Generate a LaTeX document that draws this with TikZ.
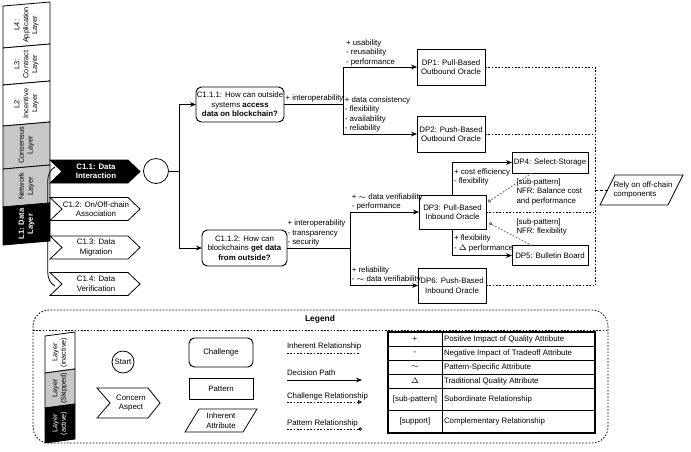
\documentclass[tikz,border=0pt]{standalone}
\usepackage{fontspec}
\setmainfont{Liberation Sans}
\usetikzlibrary{arrows.meta,decorations.pathreplacing,calc}
\newdimen\pxu \pxu=0.75pt
% x1 x2 ytop ybottom fill nodeopts name text
\newcommand\laySeg[8]{%
  \filldraw[fill=#5, line width=0.6pt] (#1,#3+4) -- (#2,#3) -- (#2,#4) -- (#1,#4+4) -- cycle;
  \node[rotate=90, align=center, #6] (#7) at ({(#1+#2)/2},{(#3+#4)/2+2}) {#8};}
% y fill name nodeopts text
\newcommand\chevShape[5]{%
  \filldraw[fill=#2, line width=0.6pt] (50,#1-11.5) -- (128,#1-11.5) -- (140,#1) -- (128,#1+11.5) -- (50,#1+11.5) -- (62,#1) -- cycle;
  \node[align=center, #4] (#3) at (96,#1) {#5};}
\begin{document}
\begin{tikzpicture}[x=0.75pt,y=-0.75pt,
  every node/.style={font=\fontsize{5.9}{7.1}\selectfont, inner sep=0pt, outer sep=0pt},
  box/.style={draw, line width=0.7pt, align=center},
  chal/.style={box, rounded corners=4pt},
  arr/.style={line width=0.6pt, -{Stealth[length=4.5pt,width=3.6pt]}},
  dline/.style={line width=0.6pt},
  inh/.style={line width=0.6pt, dash pattern=on 1.3pt off 1.2pt},
  patrel/.style={line width=0.6pt, black!60, dash pattern=on 1.3pt off 1.2pt, -{Circle[open,length=2.6pt,width=2.6pt]}},
  chrel/.style={line width=0.6pt, dash pattern=on 1.3pt off 1.2pt, -{Triangle[open,length=3pt,width=3pt]}},
  lbl/.style={align=left, anchor=south west},
  lblt/.style={align=left, anchor=north west},
  small/.style={font=\fontsize{5.4}{6.4}\selectfont},
  barf/.style={font=\fontsize{5.5}{6.6}\selectfont},
]
\useasboundingbox (0,0) rectangle (691,451);

% ---------- layer bar ----------
\laySeg{3}{50}{2}{44}{white}{barf}{l4}{L4:\\Application\\Layer}
\laySeg{3}{50}{44}{81}{white}{barf}{l3}{L3:\\Contract\\Layer}
\laySeg{3}{50}{81}{122}{white}{barf}{l2}{L2:\\Incentive\\Layer}
\laySeg{3}{50}{122}{165}{black!22}{barf}{lc}{Consensus\\Layer}
\laySeg{3}{50}{165}{203}{black!22}{barf}{ln}{Network\\Layer}
\laySeg{3}{50}{203}{241}{black}{text=white,font=\fontsize{5.7}{6.8}\selectfont\bfseries}{l1}{L1: Data\\Layer}

% ---------- concerns ----------
\chevShape{171.5}{black}{c11}{text=white,font=\fontsize{5.9}{7.1}\selectfont\bfseries}{C1.1: Data\\Interaction}
\chevShape{209}{white}{c12}{}{C1.2: On/Off-chain\\Association}
\chevShape{247.5}{white}{c13}{}{C1.3: Data\\Migration}
\chevShape{284}{white}{c14}{}{C1.4: Data\\Verification}
\draw[line width=0.6pt, decorate, decoration={brace, amplitude=11pt}] (55,286) -- (55,167);

% ---------- start and challenges ----------
\node[draw, circle, minimum size=25\pxu, line width=0.6pt] (start) at (156,171) {};
\node[chal, minimum width=88\pxu, minimum height=35\pxu] (c111) at (240,104.5)
  {C1.1.1: How can outside\\systems \textbf{access}\\\textbf{data on blockchain?}};
\node[chal, minimum width=85\pxu, minimum height=36\pxu] (c112) at (244.5,248)
  {C1.1.2: How can\\blockchains \textbf{get data}\\\textbf{from outside?}};
\draw[dline] (start.east) -- (179,171) coordinate (b0);
\draw[arr] (b0) |- (c111.west);
\draw[arr] (b0) |- (c112.west);

% ---------- patterns ----------
\node[box, minimum width=68\pxu, minimum height=36\pxu] (dp1) at (451,67) {DP1: Pull-Based\\Outbound Oracle};
\node[box, minimum width=68\pxu, minimum height=36\pxu] (dp2) at (451,134) {DP2: Push-Based\\Outbound Oracle};
\node[box, minimum width=67\pxu, minimum height=34\pxu] (dp3) at (452.5,212) {DP3: Pull-Based\\Inbound Oracle};
\node[box, minimum width=76\pxu, minimum height=21\pxu] (dp4) at (550,162.5) {DP4: Select-Storage};
\node[box, minimum width=76\pxu, minimum height=20\pxu] (dp5) at (550,255.5) {DP5: Bulletin Board};
\node[box, minimum width=68\pxu, minimum height=35\pxu] (dp6) at (452,285.5) {DP6: Push-Based\\Inbound Oracle};

% C1.1.1 branch
\draw[dline] (c111.east) -- (343,104.5) coordinate (b1);
\node[lbl] (l111) at (285.5,102.5) {+ interoperability};
\draw[arr] (b1) |- (dp1.west);
\draw[arr] (b1) |- (dp2.west);
\node[lbl] (ldp1) at (346,66) {+ usability\\- reusability\\- performance};
\node[lbl] (ldp2) at (344.8,132.5) {+ data consistency\\- flexibility\\- availability\\- reliability};

% C1.1.2 branch
\draw[dline] (c112.east) -- (350,248) coordinate (b2);
\node[lbl] (l112) at (287.5,246.5) {+ interoperability\\- transparency\\- security};
\draw[arr] (b2) |- (dp3.west);
\draw[arr] (b2) |- (dp6.west);
\node[lbl] (ldp3) at (351.8,210.5) {+ $\sim$ data verifiability\\- performance};
\node[lbl] (ldp6) at (351.8,283.5) {+ reliability\\- $\sim$ data verifiability};

% DP3 sub branches
\draw[arr] (dp3.north) |- (dp4.west);
\draw[arr] (dp3.south) |- (dp5.west);
\node[lblt] (ldp4) at (454,168.5) {+ cost efficiency\\- flexibility};
\node[lbl] (ldp5) at (454,252) {+ flexibility\\- $\Delta$ performance};

% pattern relationships
\draw[patrel] ($(dp4.south west)+(20,0)$) -- ($(dp3.east)+(2,-10)$);
\draw[patrel] ($(dp5.north west)+(20,0)$) -- ($(dp3.east)+(3,11)$);
\node[lblt] (lsp1) at (516.5,178.5) {[sub-pattern]\\NFR: Balance cost\\and performance};
\node[lblt] (lsp2) at (516.5,218.5) {[sub-pattern]\\NFR: flexibility};

% inherent relationships
\coordinate (vt) at (595,67);
\coordinate (vb) at (595,285.5);
\draw[inh] (dp1.east) -- (vt);
\draw[inh] (dp2.east) -- (dp2.east -| vt);
\draw[inh] (dp3.east) -- (dp3.east -| vt);
\draw[inh] (dp6.east) -- (vb);
\draw[inh] (vt) -- (vb);
\draw[line width=0.6pt] (600,205) -- (615,175) -- (683,175) -- (668,205) -- cycle;
\node[align=left, anchor=west] (rely) at (613.5,190) {Rely on off-chain\\components};
\coordinate (relyw) at (607.5,190);
\draw[line width=0.6pt, dash pattern=on 2.2pt off 1.6pt] (595,190) -- (relyw);

% ---------- legend ----------
\draw[line width=0.6pt, dash pattern=on 1.2pt off 1.2pt, rounded corners=12pt] (33,310) rectangle (608,443);
\draw[line width=0.6pt, dash pattern=on 1.2pt off 1.2pt] (33,330) -- (608,330);
\node[font=\fontsize{6.3}{7.5}\selectfont\bfseries] (legtitle) at (320,319.5) {Legend};

\laySeg{45}{75}{332}{369}{white}{small}{lgl1}{Layer\\(inactive)}
\laySeg{45}{75}{369}{404}{black!22}{small}{lgl2}{Layer\\(Skipped)}
\laySeg{45}{75}{404}{439}{black}{small, text=white}{lgl3}{Layer\\(active)}

\node[draw, circle, minimum size=22\pxu, line width=0.6pt] (lgstart) at (123,362) {Start};
\filldraw[fill=white, line width=0.6pt] (97,388) -- (148,388) -- (160,403) -- (148,418) -- (97,418) -- (110,403) -- cycle;
\node[align=center] (lgconc) at (131,403) {Concern\\Aspect};

\node[chal, minimum width=64\pxu, minimum height=29\pxu] (lgchal) at (221,352.5) {Challenge};
\node[box, minimum width=64\pxu, minimum height=21\pxu] (lgpat) at (221,388.5) {Pattern};
\draw[line width=0.6pt] (185,432) -- (199,409) -- (257,409) -- (243,432) -- cycle;
\node[align=center] (lginh) at (221,420.5) {Inherent\\Attribute};

\node[anchor=west] (lgt1) at (287,346.5) {Inherent Relationship};
\draw[inh] (287,353) coordinate (lga1) -- (360,353) coordinate (lgb1);
\node[anchor=west] (lgt2) at (287,373) {Decision Path};
\draw[arr] (287,380) coordinate (lga2) -- (362,380) coordinate (lgb2);
\node[anchor=west] (lgt3) at (287,396) {Challenge Relationship};
\draw[chrel] (287,402) coordinate (lga3) -- (362,402) coordinate (lgb3);
\node[anchor=west] (lgt4) at (287,423) {Pattern Relationship};
\draw[inh, -{Circle[open,length=2.6pt,width=2.6pt]}] (287,429) coordinate (lga4) -- (362,429) coordinate (lgb4);

% table
\draw[line width=0.8pt] (388,332) rectangle (595,433);
\foreach \yy in {346,360,374,388,410} \draw[line width=0.6pt] (388,\yy) -- (595,\yy);
\draw[line width=0.6pt] (442,332) -- (442,433);
\node (ta1) at (415,339) {+};
\node (ta2) at (415,353) {-};
\node (ta3) at (415,367) {$\sim$};
\node (ta4) at (415,381) {$\Delta$};
\node (ta5) at (415,399) {[sub-pattern]};
\node (ta6) at (415,421.5) {[support]};
\node[anchor=west] (tb1) at (444,339) {Positive Impact of Quality Attribute};
\node[anchor=west] (tb2) at (444,353) {Negative Impact of Tradeoff Attribute};
\node[anchor=west] (tb3) at (444,367) {Pattern-Specific Attribute};
\node[anchor=west] (tb4) at (444,381) {Traditional Quality Attribute};
\node[anchor=west] (tb5) at (444,399) {Subordinate Relationship};
\node[anchor=west] (tb6) at (444,421.5) {Complementary Relationship};
\end{tikzpicture}
\end{document}
